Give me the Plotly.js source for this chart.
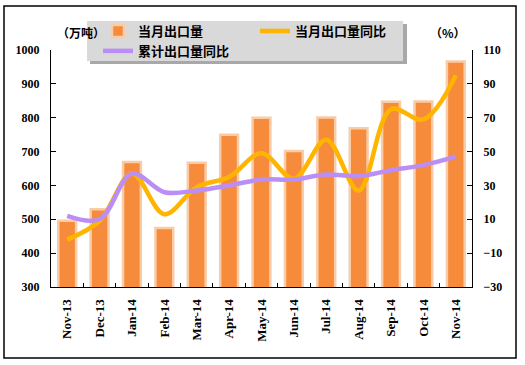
<!DOCTYPE html>
<html>
<head>
<meta charset="utf-8">
<script src="https://cdn.plot.ly/plotly-3.0.1.min.js"></script>
<style>html,body{margin:0;padding:0;background:#fff;}#chart{width:525px;height:365px;}</style>
</head>
<body>
<div id="chart"></div>
<script>
var months = ["Nov-13","Dec-13","Jan-14","Feb-14","Mar-14","Apr-14","May-14","Jun-14","Jul-14","Aug-14","Sep-14","Oct-14","Nov-14"];
var monthlyExport = [496, 530, 669, 474, 667, 750, 800, 702, 801, 769, 847, 848, 966];
var monthlyYoY = [-2, 9, 37, 13, 29, 35, 49, 34, 57, 27, 75, 69, 95];
var cumulativeYoY = [12, 10, 37, 26, 27, 30, 33.5, 33.5, 36.5, 35.5, 39, 42, 47];
var leftTicks = [300, 400, 500, 600, 700, 800, 900, 1000];
var rightTicks = [-30, -10, 10, 30, 50, 70, 90, 110];

var tickFont = {family: "Liberation Serif, serif", size: 12, color: "#000", weight: "bold"};
var cjkFont = {family: "Noto Sans CJK SC, sans-serif", size: 13, color: "#000", weight: "bold"};

var traces = [
  {type: "bar", x: months, y: monthlyExport, name: "当月出口量", yaxis: "y",
   width: 0.55,
   marker: {color: "#F68B3C", line: {color: "#F9CCA8", width: 2.5}}},
  {type: "scatter", mode: "lines", x: months, y: monthlyYoY, name: "当月出口量同比", yaxis: "y2",
   line: {color: "#FFB500", width: 4.5, shape: "spline", smoothing: 1}},
  {type: "scatter", mode: "lines", x: months, y: cumulativeYoY, name: "累计出口量同比", yaxis: "y2",
   line: {color: "#BB8EF5", width: 4.5, shape: "spline", smoothing: 1}}
];

var W = 421, H = 237, L = 51, T = 50;
function px(x){ return (x - L) / W; }
function py(y){ return (T + H - y) / H; }

var layout = {
  width: 525, height: 365,
  margin: {l: 51, r: 53, t: 50, b: 78, pad: 0},
  paper_bgcolor: "#fff", plot_bgcolor: "#fff",
  showlegend: true,
  xaxis: {type: "category", showgrid: false, zeroline: false,
          showline: true, linecolor: "#000", linewidth: 1,
          ticks: "inside", ticklen: 4, tickcolor: "#000", tickson: "boundaries",
          tickangle: -90, tickfont: {family: "Liberation Serif, serif", size: 13, color: "#000", weight: "bold"},
          ticklabelstandoff: 6},
  yaxis: {range: [300, 1000], tickvals: leftTicks, showgrid: false, zeroline: false,
          showline: true, linecolor: "#000", linewidth: 1,
          ticks: "inside", ticklen: 5, tickcolor: "#000", tickfont: tickFont,
          ticklabelstandoff: 8},
  yaxis2: {range: [-30, 110], tickvals: rightTicks, overlaying: "y", side: "right",
           showgrid: false, zeroline: false,
           showline: true, linecolor: "#000", linewidth: 1,
           ticks: "inside", ticklen: 5, tickcolor: "#000", tickfont: tickFont,
           ticklabelstandoff: 8},
  legend: {orientation: "h", x: px(98), xanchor: "left", y: py(16), yanchor: "top",
           bgcolor: "rgba(0,0,0,0)", borderwidth: 0, font: cjkFont,
           entrywidth: 112, tracegroupgap: 0, traceorder: "normal"},
  shapes: [
    {type: "rect", xref: "paper", yref: "paper", x0: px(4), x1: px(516), y0: py(358), y1: py(6),
     line: {color: "#000", width: 1.5}, fillcolor: "rgba(0,0,0,0)", layer: "below"},
    {type: "rect", xref: "paper", yref: "paper", x0: px(90), x1: px(407), y0: py(64), y1: py(24),
     line: {width: 0}, fillcolor: "#A8A8A8", layer: "above"},
    {type: "rect", xref: "paper", yref: "paper", x0: px(87), x1: px(403), y0: py(61), y1: py(21),
     line: {width: 0}, fillcolor: "#D9D9D9", layer: "above"}
  ],
  annotations: [
    {xref: "paper", yref: "paper", x: px(55), y: py(22), text: "（万吨）", showarrow: false,
     font: {family: "Noto Sans CJK SC, sans-serif", size: 12, color: "#000", weight: "bold"}},
    {xref: "paper", yref: "paper", x: px(468), y: py(22), text: "（%）", showarrow: false,
     font: {family: "Noto Sans CJK SC, sans-serif", size: 12, color: "#000", weight: "bold"}}
  ]
};

Plotly.newPlot("chart", traces, layout, {displayModeBar: false, staticPlot: true});
</script>
</body>
</html>
